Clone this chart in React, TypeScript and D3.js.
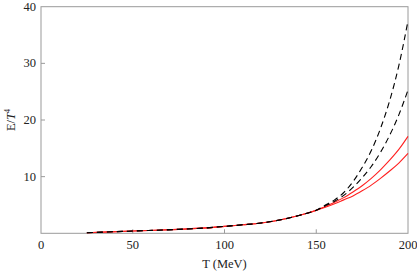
import { useRef, useEffect } from "react"
import * as d3 from "d3"

// temperature grid (MeV)
const temps = [25, 50, 75, 90, 100, 110, 120, 130, 140, 145, 150, 155, 160, 165, 170, 175, 180, 185, 190, 195, 200]

// shared low-T part
const base = [0.1, 0.4, 0.7, 0.95, 1.22, 1.5, 1.82, 2.35, 3.1, 3.55, 4.05]

const dashedTop = [...base, 5.0, 5.9, 7.2, 9.1, 11.6, 14.6, 18.5, 23.4, 29.6, 37.5]
const dashedLow = [...base, 4.85, 5.65, 6.7, 8.1, 9.8, 11.8, 14.3, 17.3, 20.9, 25.3]
const redTop = [...base, 4.75, 5.5, 6.3, 7.3, 8.4, 9.7, 11.2, 12.9, 14.8, 17.1]
const redLow = [...base, 4.6, 5.2, 5.9, 6.6, 7.5, 8.5, 9.7, 11.0, 12.4, 14.1]

const xTicks = [0, 50, 100, 150, 200]
const yTicks = [10, 20, 30, 40]

const App = () => {
  const svgRef = useRef<SVGSVGElement>(null)

  useEffect(() => {
    const svg = d3.select(svgRef.current)
    svg.selectAll("*").remove()

    const left = 41
    const right = 408
    const top = 6.7
    const bottom = 233.3

    const x = d3.scaleLinear().domain([0, 200]).range([left, right])
    const y = d3.scaleLinear().domain([0, 40]).range([bottom, top])
    const axisColor = "#9a9a9a"
    const font = "'Liberation Serif', 'DejaVu Serif', serif"

    // frame
    svg
      .append("rect")
      .attr("x", left)
      .attr("y", top)
      .attr("width", right - left)
      .attr("height", bottom - top)
      .attr("fill", "none")
      .attr("stroke", axisColor)
      .attr("stroke-width", 1)

    // ticks (inward)
    svg
      .selectAll(".xt")
      .data(xTicks.slice(1, -1))
      .enter()
      .append("line")
      .attr("x1", (d) => x(d))
      .attr("x2", (d) => x(d))
      .attr("y1", bottom)
      .attr("y2", bottom - 4)
      .attr("stroke", axisColor)

    svg
      .selectAll(".yt")
      .data(yTicks.slice(0, -1))
      .enter()
      .append("line")
      .attr("x1", left)
      .attr("x2", left + 4)
      .attr("y1", (d) => y(d))
      .attr("y2", (d) => y(d))
      .attr("stroke", axisColor)

    // tick labels
    svg
      .selectAll(".xl")
      .data(xTicks)
      .enter()
      .append("text")
      .attr("x", (d) => x(d))
      .attr("y", 249)
      .attr("text-anchor", "middle")
      .attr("font-family", font)
      .attr("font-size", "12.5px")
      .attr("fill", "#222")
      .text((d) => d)

    svg
      .selectAll(".yl")
      .data(yTicks)
      .enter()
      .append("text")
      .attr("x", 36)
      .attr("y", (d) => y(d) + 4)
      .attr("text-anchor", "end")
      .attr("font-family", font)
      .attr("font-size", "12.5px")
      .attr("fill", "#222")
      .text((d) => d)

    // axis titles
    svg
      .append("text")
      .attr("x", x(100))
      .attr("y", 268)
      .attr("text-anchor", "middle")
      .attr("font-family", font)
      .attr("font-size", "12.5px")
      .attr("fill", "#222")
      .text("T (MeV)")

    const yl = svg
      .append("text")
      .attr("transform", `translate(15,120) rotate(-90)`)
      .attr("text-anchor", "middle")
      .attr("font-family", font)
      .attr("font-size", "12.5px")
      .attr("fill", "#222")
    yl.append("tspan").text("E/")
    yl.append("tspan").attr("font-style", "italic").text("T")
    yl.append("tspan").attr("font-size", "8px").attr("dy", -5).text("4")

    const line = d3
      .line<number>()
      .x((_, i) => x(temps[i]))
      .y((d) => y(d))
      .curve(d3.curveMonotoneX)

    const plot = svg.append("g")
    ;[redTop, redLow].forEach((s) => {
      plot.append("path").attr("d", line(s)).attr("fill", "none").attr("stroke", "#ff2020").attr("stroke-width", 1.1)
    })
    ;[dashedTop, dashedLow].forEach((s) => {
      plot
        .append("path")
        .attr("d", line(s))
        .attr("fill", "none")
        .attr("stroke", "#000")
        .attr("stroke-width", 1.1)
        .attr("stroke-dasharray", "6,4")
    })
  }, [])

  return (
    <svg
      ref={svgRef}
      width={417}
      height={271}
      style={{ position: "absolute", left: 0, top: 0, background: "#fff" }}
    />
  )
}

export default App
